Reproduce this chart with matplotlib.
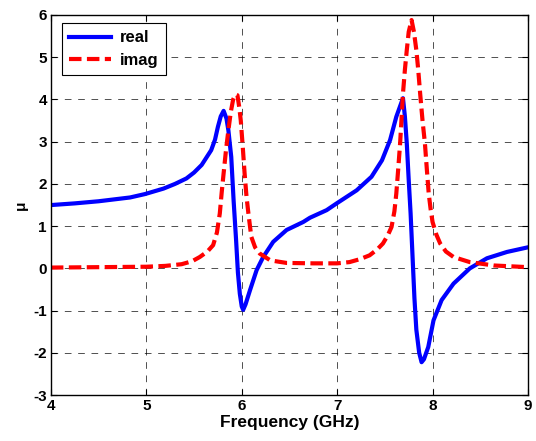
import matplotlib.pyplot as plt

plt.rcParams['font.family'] = ['Liberation Sans', 'DejaVu Sans']
plt.rcParams['font.weight'] = 'bold'
plt.rcParams['axes.unicode_minus'] = False

# frequency (GHz) and permeability
freq_real = [4.0, 4.25, 4.5, 4.83, 4.985, 5.18, 5.3, 5.42, 5.5, 5.58, 5.68, 5.72, 5.75,
             5.78, 5.81, 5.84, 5.86, 5.89, 5.915, 5.94, 5.96, 5.98, 6.0, 6.015, 6.04,
             6.086, 6.156, 6.225, 6.33, 6.47, 6.645, 6.715, 6.89, 6.995, 7.205, 7.36,
             7.47, 7.555, 7.62, 7.69, 7.71, 7.73, 7.75, 7.77, 7.79, 7.81, 7.83, 7.86,
             7.885, 7.91, 7.955, 8.01, 8.095, 8.22, 8.39, 8.57, 8.78, 9.0]
mu_real = [1.5, 1.54, 1.59, 1.68, 1.76, 1.89, 2.0, 2.13, 2.27, 2.45, 2.80, 3.05, 3.35,
           3.6, 3.73, 3.55, 3.27, 2.64, 1.6, 0.7, -0.1, -0.6, -0.9, -0.98, -0.85,
           -0.52, -0.04, 0.27, 0.63, 0.91, 1.10, 1.20, 1.38, 1.54, 1.85, 2.17,
           2.56, 3.04, 3.59, 4.03, 3.6, 2.96, 2.1, 1.3, 0.3, -0.7, -1.45, -2.0,
           -2.22, -2.15, -1.86, -1.23, -0.75, -0.36, 0.0, 0.24, 0.39, 0.50]

freq_imag = [4.0, 4.5, 5.0, 5.2, 5.37, 5.48, 5.56, 5.64, 5.70, 5.74, 5.77, 5.79, 5.81,
             5.835, 5.86, 5.885, 5.91, 5.935, 5.955, 5.975, 5.99, 6.01, 6.03, 6.05,
             6.07, 6.10, 6.14, 6.19, 6.30, 6.47, 6.75, 7.00, 7.13, 7.24, 7.34, 7.42,
             7.48, 7.53, 7.57, 7.60, 7.62, 7.64, 7.66, 7.675, 7.69, 7.71, 7.73, 7.75,
             7.78, 7.805, 7.83, 7.85, 7.87, 7.895, 7.92, 7.94, 7.96, 7.98, 8.0, 8.04,
             8.08, 8.14, 8.22, 8.39, 8.64, 9.0]
mu_imag = [0.02, 0.03, 0.04, 0.06, 0.10, 0.17, 0.27, 0.40, 0.55, 0.85, 1.30, 1.8, 2.25,
           2.8, 3.27, 3.7, 4.0, 4.12, 4.1, 3.8, 3.5, 2.9, 2.25, 1.7,
           1.30, 0.75, 0.5, 0.35, 0.19, 0.13, 0.12, 0.12, 0.15, 0.22, 0.31, 0.45,
           0.59, 0.78, 0.98, 1.35, 1.77, 2.35, 2.96, 3.55, 4.14, 4.7, 5.17, 5.6,
           5.88, 5.6, 5.17, 4.7, 4.14, 3.5, 2.96, 2.35, 1.77, 1.4, 1.1, 0.8,
           0.59, 0.4, 0.27, 0.15, 0.07, 0.03]

fig = plt.figure(figsize=(5.36, 4.41), dpi=100)
ax = fig.add_axes([0.095, 0.104, 0.89, 0.862])

ax.plot(freq_real, mu_real, color='#0000ff', lw=3.0, label='real')
ax.plot(freq_imag, mu_imag, color='#ff0000', lw=3.0, dashes=(3.0, 1.3), label='imag')

ax.set_xlim(4, 9)
ax.set_ylim(-3, 6)
ax.set_xticks(range(4, 10))
ax.set_yticks(range(-3, 7))
ax.grid(True, color='k', lw=0.6, linestyle=(0, (8, 8)), alpha=0.8)
ax.tick_params(direction='in', top=True, right=True, labelsize=11, length=4, pad=3)
for lab in ax.get_xticklabels() + ax.get_yticklabels():
    lab.set_fontweight('bold')
for sp in ax.spines.values():
    sp.set_linewidth(1.0)

ax.set_xlabel('Frequency (GHz)', fontsize=12.5, fontweight='bold', labelpad=1)
ax.set_ylabel('\u03bc', fontsize=11, fontweight='bold', labelpad=4)

leg = ax.legend(loc='upper left', bbox_to_anchor=(11 / 477, 1 - 8 / 380),
                borderaxespad=0, fancybox=False, edgecolor='k', framealpha=1,
                handlelength=2.5, fontsize=12, borderpad=0.45, labelspacing=0.45,
                handletextpad=0.5)
leg.get_frame().set_linewidth(0.8)

fig.savefig('out.png', dpi=100)
